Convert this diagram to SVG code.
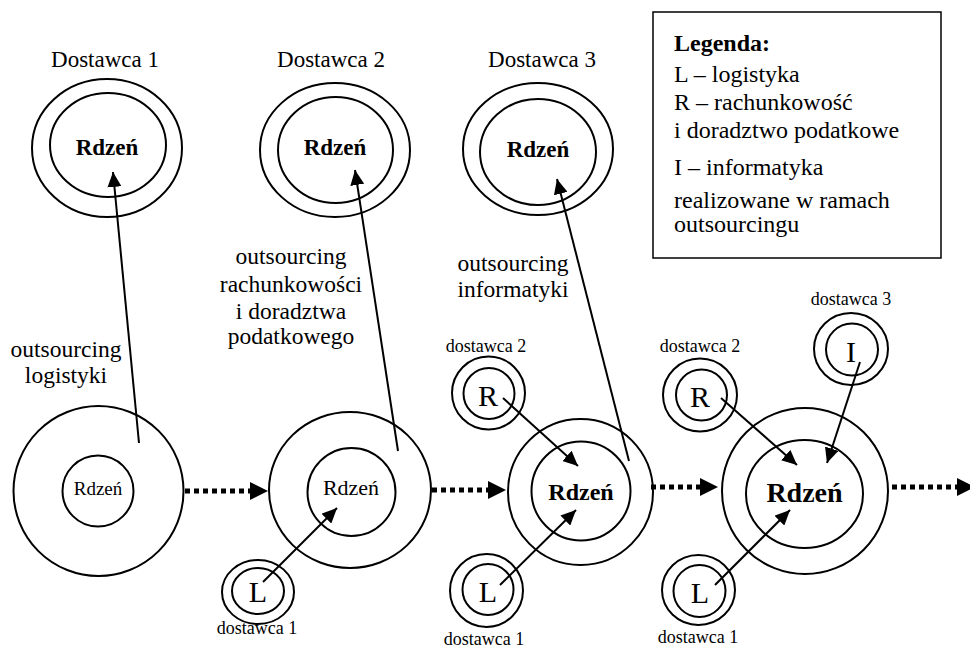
<svg xmlns="http://www.w3.org/2000/svg" width="970" height="648" viewBox="0 0 970 648">
<style>
  text { font-family: "Liberation Serif", "Times New Roman", serif; fill: #000; }
  .c { fill: none; stroke: #000; stroke-width: 2; }
  .ln { fill: none; stroke: #000; stroke-width: 2; }
  .dot { fill: none; stroke: #000; stroke-width: 5; stroke-dasharray: 5 4; }
  .t23 { font-size: 23px; }
  .lab { font-size: 23.5px; }
  .leg { font-size: 24px; }
  .b { font-weight: bold; }
  .sm { font-size: 18px; }
  .big { font-size: 30px; }
  .mid { text-anchor: middle; }
</style>
<defs>
  <marker id="ah" markerUnits="userSpaceOnUse" markerWidth="16" markerHeight="14" refX="15" refY="7" orient="auto">
    <path d="M0,0 L15,7 L0,14 z" fill="#000"/>
  </marker>
</defs>
<rect width="970" height="648" fill="#fff"/>

<!-- top suppliers -->
<g id="dostawca1">
  <text class="t23 mid" x="105" y="67">Dostawca 1</text>
  <ellipse class="c" cx="107" cy="148" rx="75" ry="69"/>
  <ellipse class="c" cx="108" cy="145" rx="58" ry="52"/>
  <text class="t23 b mid" x="107" y="155">Rdzeń</text>
</g>
<g id="dostawca2">
  <text class="t23 mid" x="331" y="67">Dostawca 2</text>
  <ellipse class="c" cx="335" cy="150" rx="75" ry="67"/>
  <ellipse class="c" cx="335.5" cy="150" rx="57.5" ry="53"/>
  <text class="t23 b mid" x="335" y="155">Rdzeń</text>
</g>
<g id="dostawca3">
  <text class="t23 mid" x="542" y="67">Dostawca 3</text>
  <ellipse class="c" cx="538" cy="149" rx="75" ry="66"/>
  <ellipse class="c" cx="538" cy="152" rx="58" ry="53"/>
  <text class="t23 b mid" x="538" y="157">Rdzeń</text>
</g>

<!-- legend -->
<g id="legenda">
  <rect x="653" y="12" width="288" height="246" fill="#fff" stroke="#000" stroke-width="1.5"/>
  <text class="leg b" x="674" y="51">Legenda:</text>
  <text class="leg" x="674" y="82">L – logistyka</text>
  <text class="leg" x="674" y="110">R – rachunkowość</text>
  <text class="leg" x="674" y="138">i doradztwo podatkowe</text>
  <text class="leg" x="674" y="175">I – informatyka</text>
  <text class="leg" x="674" y="208">realizowane w ramach</text>
  <text class="leg" x="674" y="232">outsourcingu</text>
</g>

<!-- labels -->
<g id="label-logistyki">
  <text class="lab mid" x="66" y="357">outsourcing</text>
  <text class="lab mid" x="66" y="383">logistyki</text>
</g>
<g id="label-rachunkowosci">
  <text class="lab mid" x="291" y="264">outsourcing</text>
  <text class="lab mid" x="291" y="292">rachunkowości</text>
  <text class="lab mid" x="291" y="319">i doradztwa</text>
  <text class="lab mid" x="291" y="344">podatkowego</text>
</g>
<g id="label-informatyki">
  <text class="lab mid" x="513" y="271">outsourcing</text>
  <text class="lab mid" x="513" y="297">informatyki</text>
</g>

<!-- stage 1 -->
<g id="etap1">
  <circle class="c" cx="98.5" cy="491" r="85"/>
  <circle class="c" cx="98" cy="491" r="35.5"/>
  <text class="mid" font-size="19" x="98" y="495">Rdzeń</text>
</g>

<!-- stage 2 -->
<g id="etap2">
  <ellipse class="c" cx="350" cy="490" rx="81" ry="78"/>
  <circle class="c" cx="351.5" cy="492" r="44"/>
  <text class="mid" font-size="22" x="351" y="495">Rdzeń</text>
</g>
<g id="etap2-L">
  <ellipse class="c" cx="258" cy="592" rx="36" ry="32"/>
  <ellipse class="c" cx="258" cy="591" rx="26" ry="23"/>
  <text class="big mid" x="258" y="602">L</text>
  <text class="sm mid" x="257" y="634">dostawca 1</text>
</g>

<!-- stage 3 -->
<g id="etap3">
  <ellipse class="c" cx="580.5" cy="492" rx="72.5" ry="73"/>
  <circle class="c" cx="581" cy="491" r="49.5"/>
  <text class="b mid" font-size="24" x="581" y="500">Rdzeń</text>
</g>
<g id="etap3-R">
  <text class="sm mid" x="486" y="352">dostawca 2</text>
  <circle class="c" cx="488.5" cy="393" r="36.5"/>
  <circle class="c" cx="489" cy="393.5" r="25.5"/>
  <text class="big mid" x="488" y="406">R</text>
</g>
<g id="etap3-L">
  <circle class="c" cx="486.5" cy="590.5" r="36.5"/>
  <circle class="c" cx="488" cy="589.5" r="25.5"/>
  <text class="big mid" x="488" y="602">L</text>
  <text class="sm mid" x="484" y="645">dostawca 1</text>
</g>

<!-- stage 4 -->
<g id="etap4">
  <circle class="c" cx="805" cy="491" r="83"/>
  <ellipse class="c" cx="804.5" cy="494" rx="58.5" ry="54"/>
  <text class="b mid" font-size="28" x="804.5" y="502">Rdzeń</text>
</g>
<g id="etap4-R">
  <text class="sm mid" x="700" y="352">dostawca 2</text>
  <ellipse class="c" cx="700" cy="395" rx="37" ry="36.5"/>
  <circle class="c" cx="701.5" cy="395" r="25.5"/>
  <text class="big mid" x="700" y="407">R</text>
</g>
<g id="etap4-I">
  <text class="sm mid" x="851" y="305">dostawca 3</text>
  <ellipse class="c" cx="851" cy="349" rx="37" ry="36"/>
  <circle class="c" cx="852" cy="349.5" r="26"/>
  <text class="big mid" x="851" y="362">I</text>
</g>
<g id="etap4-L">
  <ellipse class="c" cx="698.5" cy="590" rx="36.5" ry="35"/>
  <circle class="c" cx="699.5" cy="591" r="26"/>
  <text class="big mid" x="700" y="603">L</text>
  <text class="sm mid" x="698" y="643">dostawca 1</text>
</g>

<!-- connectors -->
<g id="connectors">
  <line class="ln" x1="139" y1="443" x2="113" y2="172" marker-end="url(#ah)"/>
  <line class="ln" x1="398" y1="451" x2="355" y2="170" marker-end="url(#ah)"/>
  <line class="ln" x1="629" y1="461" x2="557" y2="179" marker-end="url(#ah)"/>

  <line class="ln" x1="263" y1="582" x2="337" y2="508" marker-end="url(#ah)"/>
  <line class="ln" x1="503" y1="398" x2="578" y2="466" marker-end="url(#ah)"/>
  <line class="ln" x1="500" y1="585" x2="576" y2="510" marker-end="url(#ah)"/>
  <line class="ln" x1="721" y1="398" x2="797" y2="465" marker-end="url(#ah)"/>
  <line class="ln" x1="860" y1="362" x2="827" y2="463" marker-end="url(#ah)"/>
  <line class="ln" x1="715" y1="585" x2="790" y2="510" marker-end="url(#ah)"/>

  <line class="dot" x1="185" y1="491" x2="250" y2="491"/>
  <polygon points="250,482 268,491 250,500" fill="#000"/>
  <line class="dot" x1="432" y1="490" x2="488" y2="490"/>
  <polygon points="488,481 506,490 488,499" fill="#000"/>
  <line class="dot" x1="651" y1="487" x2="700" y2="487"/>
  <polygon points="700,478 718,487 700,496" fill="#000"/>
  <line class="dot" x1="892" y1="487" x2="957" y2="487"/>
  <polygon points="957,478 975,487 957,496" fill="#000"/>
</g>
</svg>
